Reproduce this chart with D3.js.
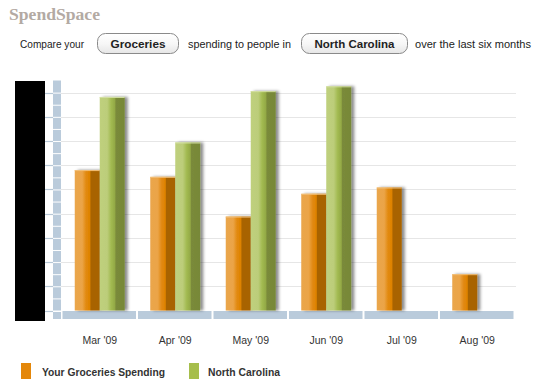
<!DOCTYPE html>
<html><head><meta charset="utf-8">
<script src="https://cdn.jsdelivr.net/npm/d3@7"></script>
<style>
html,body{margin:0;padding:0;background:#fff;}
svg{display:block;}
</style></head>
<body>
<svg id="c" width="540" height="390"></svg>
<script>
const months = ["Mar '09","Apr '09","May '09","Jun '09","Jul '09","Aug '09"];
const seriesNames = ["Your Groceries Spending","North Carolina"];
const yourSpending = [290, 276, 194, 241, 254, 75];
const northCarolina = [441, 347, 453, 463, null, null];
const yTicks = [0,50,100,150,200,250,300,350,400,450];
const yMinorTicks = [25,75,125,175,225,275,325,375,425,462.5];

const svg = d3.select("#c");
const defs = svg.append("defs");
function grad(id, stops){
  const g = defs.append("linearGradient").attr("id",id).attr("x1","0").attr("x2","1").attr("y1","0").attr("y2","0");
  stops.forEach(s=>g.append("stop").attr("offset",s[0]).attr("stop-color",s[1]));
}
grad("gOr", [[0,"#eaa64c"],[0.3,"#eba447"],[0.45,"#e28a12"],[0.6,"#de8200"],[0.65,"#a86300"],[1,"#a86300"]]);
grad("gGr", [[0,"#bfd07d"],[0.3,"#bccd7a"],[0.45,"#a3bb52"],[0.6,"#93a945"],[0.65,"#7a8a3a"],[1,"#778838"]]);
const f = defs.append("filter").attr("id","sh").attr("x","-20%").attr("y","-10%").attr("width","160%").attr("height","120%");
f.append("feDropShadow").attr("dx",3).attr("dy",0).attr("stdDeviation",1.8).attr("flood-color","#000").attr("flood-opacity",0.45);

// Title & header
svg.append("text").attr("x",9).attr("y",20).text("SpendSpace")
  .attr("font-family","'Liberation Serif','DejaVu Serif',serif").attr("font-weight","bold")
  .attr("font-size",16).attr("fill","#b3aaa3").attr("textLength",91).attr("lengthAdjust","spacingAndGlyphs");

const hf = "'Liberation Sans',Arial,sans-serif";
function ht(x,y,t,len,bold){
  return svg.append("text").attr("x",x).attr("y",y).text(t).attr("font-family",hf)
    .attr("font-size",11).attr("fill","#222").attr("font-weight",bold?"bold":"normal")
    .attr("textLength",len).attr("lengthAdjust","spacingAndGlyphs");
}
const bg = defs.append("linearGradient").attr("id","btn").attr("x1",0).attr("x2",0).attr("y1",0).attr("y2",1);
bg.append("stop").attr("offset",0).attr("stop-color","#ffffff");
bg.append("stop").attr("offset",0.5).attr("stop-color","#f7f7f7");
bg.append("stop").attr("offset",1).attr("stop-color","#e6e6e6");
function button(x,w,t,tw){
  svg.append("rect").attr("x",x+0.5).attr("y",33.5).attr("width",w).attr("height",20).attr("rx",8)
    .attr("fill","url(#btn)").attr("stroke","#8a8a8a");
  svg.append("text").attr("x",x+w/2+0.5).attr("y",47.5).attr("text-anchor","middle").text(t)
    .attr("font-family",hf).attr("font-weight","bold").attr("font-size",11).attr("fill","#222")
    .attr("textLength",tw).attr("lengthAdjust","spacingAndGlyphs");
}
ht(20,47.5,"Compare your",64);
button(97,81,"Groceries",55);
ht(188,47.5,"spending to people in",103);
button(301,106,"North Carolina",80);
ht(415,47.5,"over the last six months",116);

// Scales
const x0 = d3.scaleBand().domain(months).range([62,515]).paddingInner(0);
const bw = x0.bandwidth();
const x1 = d3.scaleBand().domain(seriesNames).range([bw/2-25, bw/2+25]);
const y = d3.scaleLinear().domain([0,475]).range([310.5,80.5]);

// Black label block
svg.append("rect").attr("x",15).attr("y",81).attr("width",30).attr("height",240).attr("fill","#000");

// gridlines
svg.append("g").selectAll("line").data(yTicks.slice(1)).join("line")
  .attr("x1",61).attr("x2",516).attr("y1",d=>Math.round(y(d))+0.5).attr("y2",d=>Math.round(y(d))+0.5)
  .attr("stroke","#e6e6e6").attr("stroke-width",1.2);
svg.append("g").selectAll("line").data(yTicks).join("line")
  .attr("x1",45).attr("x2",53).attr("y1",d=>Math.round(y(d))+0.5).attr("y2",d=>Math.round(y(d))+0.5)
  .attr("stroke","#b7c7d6").attr("stroke-width",1.2);

// vertical axis strip segmented
const segEdges = [475].concat(yTicks.concat(yMinorTicks.slice(0,-1)).sort((a,b)=>b-a));
const segs = [];
for(let i=0;i<segEdges.length-1;i++) segs.push([segEdges[i],segEdges[i+1]]);
svg.append("g").selectAll("rect").data(segs).join("rect")
  .attr("x",53).attr("width",8)
  .attr("y",d=>y(d[0])+ (d[0]===475?0:1)).attr("height",d=>y(d[1])-y(d[0])-(d[0]===475?0:1))
  .attr("fill","#bacbdb");
svg.append("rect").attr("x",53).attr("y",y(0)+1.5).attr("width",8).attr("height",7).attr("fill","#bacbdb");

// x axis strip
svg.append("g").selectAll("rect").data(months).join("rect")
  .attr("x",d=>x0(d)+0.5).attr("width",bw-2).attr("y",y(0)+0.5).attr("height",8)
  .attr("fill","#bacbdb");

// bars
const rows = months.map((m,i)=>({m, vals:[{s:seriesNames[0],v:yourSpending[i],g:"url(#gOr)"},{s:seriesNames[1],v:northCarolina[i],g:"url(#gGr)"}]}));
const grp = svg.append("g").selectAll("g").data(rows).join("g").attr("transform",d=>`translate(${x0(d.m)},0)`);
grp.selectAll("rect").data(d=>d.vals.filter(v=>v.v!=null)).join("rect")
  .attr("x",d=>x1(d.s)).attr("width",x1.bandwidth())
  .attr("y",d=>y(d.v)).attr("height",d=>y(0)-y(d.v))
  .attr("fill",d=>d.g).attr("filter","url(#sh)");
grp.selectAll("line.cap").data(d=>d.vals.filter(v=>v.v!=null)).join("line").attr("class","cap")
  .attr("x1",d=>x1(d.s)).attr("x2",d=>x1(d.s)+x1.bandwidth())
  .attr("y1",d=>y(d.v)+0.5).attr("y2",d=>y(d.v)+0.5)
  .attr("stroke",d=>d.s===seriesNames[0]?"#f2c07a":"#d4e0a4").attr("stroke-width",1);

// x labels
svg.append("g").selectAll("text").data(months).join("text")
  .attr("x",d=>x0(d)+bw/2).attr("y",344).attr("text-anchor","middle").text(d=>d)
  .attr("font-family",hf).attr("font-size",10.5).attr("fill","#333");

// legend
const legendColors = ["#e4870a","#a6be4c"];
const lx = [21,189], tx=[42,208], tl=[123,72];
seriesNames.forEach((s,i)=>{
  svg.append("rect").attr("x",lx[i]).attr("y",363).attr("width",10).attr("height",16).attr("fill",legendColors[i]);
  svg.append("text").attr("x",tx[i]).attr("y",376).text(s).attr("font-family",hf).attr("font-weight","bold")
    .attr("font-size",10.5).attr("fill","#333").attr("textLength",tl[i]).attr("lengthAdjust","spacingAndGlyphs");
});
</script>
</body></html>
